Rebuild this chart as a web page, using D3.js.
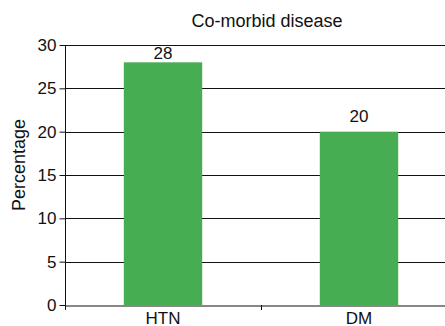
<!DOCTYPE html>
<html><head><meta charset="utf-8">
<script src="https://cdn.jsdelivr.net/npm/d3@7/dist/d3.min.js"></script>
<style>html,body{margin:0;padding:0;background:#fff;}svg{display:block;font-family:"Liberation Sans",Arial,sans-serif;}</style>
</head><body>
<script>
const categories = ["HTN", "DM"];
const values = [28, 20];
const yTicks = [0, 5, 10, 15, 20, 25, 30];
const title = "Co-morbid disease";
const yTitle = "Percentage";

const W = 445, H = 326;
const svg = d3.select("body").append("svg").attr("width", W).attr("height", H);
const x = d3.scaleBand().domain(categories).range([65, 457]).padding(0);
const y = d3.scaleLinear().domain([0, 30]).range([305, 45]);

// gridlines
svg.append("g").selectAll("line").data(yTicks.filter(t => t > 0)).join("line")
  .attr("x1", 65).attr("x2", W).attr("y1", d => Math.round(y(d)) + 0.5).attr("y2", d => Math.round(y(d)) + 0.5)
  .attr("stroke", "#111").attr("stroke-width", 1);

// bars
const bw = x.bandwidth() * 0.4;
svg.append("g").selectAll("rect").data(values).join("rect")
  .attr("x", (d, i) => x(categories[i]) + (x.bandwidth() - bw) / 2)
  .attr("width", bw)
  .attr("y", d => y(d))
  .attr("height", d => y(0) - y(d))
  .attr("fill", "#47ad52");

// y axis
const ya = svg.append("g").attr("transform", "translate(65.5,0)")
  .call(d3.axisLeft(y).tickValues(yTicks).tickSize(6).tickPadding(3));
ya.select(".domain").attr("stroke", "#111").attr("d", "M0,45V309");
ya.selectAll(".tick line").attr("stroke", "#111");
ya.selectAll("text").attr("font-size", 17).attr("fill", "#111").attr("font-family", "Liberation Sans, Arial, sans-serif");

// x axis
const xa = svg.append("g").attr("transform", "translate(0,305.5)")
  .call(d3.axisBottom(x).tickSize(0).tickPadding(6));
xa.select(".domain").attr("stroke", "#111");
xa.selectAll("text").attr("font-size", 17).attr("fill", "#111").attr("font-family", "Liberation Sans, Arial, sans-serif").attr("dy", "0.71em");
svg.append("g").selectAll("line").data(categories).join("line")
  .attr("x1", d => Math.round(x(d)) + 0.5).attr("x2", d => Math.round(x(d)) + 0.5)
  .attr("y1", 305).attr("y2", 310).attr("stroke", "#111");

// value labels
svg.append("g").selectAll("text").data(values).join("text")
  .attr("x", (d, i) => x(categories[i]) + x.bandwidth() / 2)
  .attr("y", d => Math.max(y(d) - 10, y(30) + 14))
  .attr("text-anchor", "middle").attr("font-size", 17).attr("fill", "#111")
  .text(d => d);

// title
svg.append("text").attr("x", 267).attr("y", 27).attr("text-anchor", "middle")
  .attr("font-size", 18).attr("fill", "#111").text(title);

// y title
svg.append("text").attr("transform", "translate(25,165) rotate(-90)")
  .attr("text-anchor", "middle").attr("font-size", 18).attr("fill", "#111").text(yTitle);
</script>
</body></html>
